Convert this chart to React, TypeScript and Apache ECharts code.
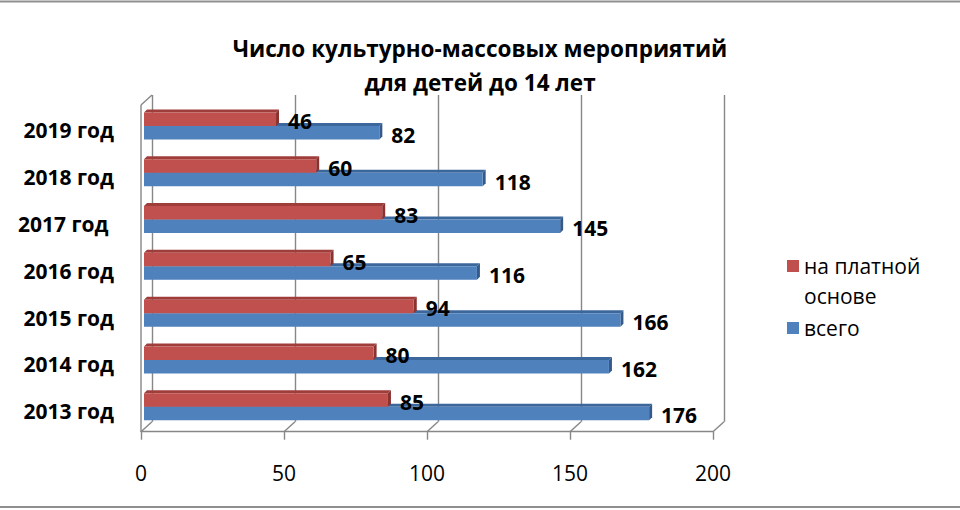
import React, { useEffect, useRef } from "react";
import * as echarts from "echarts";

// ---- data ----
const categories = ["2013 год", "2014 год", "2015 год", "2016 год", "2017 год ", "2018 год", "2019 год"];
const paidValues = [85, 80, 94, 65, 83, 60, 46];
const totalValues = [176, 162, 166, 116, 145, 118, 82];
const seriesNames = ["на платной основе", "всего"];
const axisTicks = [0, 50, 100, 150, 200];
const titleText = "Число культурно-массовых мероприятий\nдля детей до 14 лет";

// ---- style ----
const RED = "#C0504D";
const RED_TOP = "#9E3D3A";
const RED_SIDE = "#8A3230";
const BLUE = "#4F81BD";
const BLUE_TOP = "#3C679C";
const BLUE_SIDE = "#335A8A";
const FRAME = "#878787";
const FONT = '"Open Sans", "Noto Sans", sans-serif';

const BAR_H = 13.5;
const BAR_D = 3;
const LABEL_GAP = 9;
const DX = 11;
const DY = 10;

const gridA = { left: 141, right: 247, top: 105, bottom: 78.3 };
const gridB = { left: gridA.left + DX, right: gridA.right - DX, top: gridA.top - DY, bottom: gridA.bottom + DY };
const gridC = { left: 144, right: 242, top: 102.6, bottom: 79.9 };

function makeBarRender(upper: boolean, front: string, top: string, side: string) {
  return (params: any, api: any) => {
    const v = api.value(0);
    const c = api.value(1);
    const p0 = api.coord([0, c]);
    const p1 = api.coord([v, c]);
    const x0 = p0[0];
    const x1 = p1[0];
    const y = upper ? p0[1] - BAR_H : p0[1];
    const d = BAR_D;
    return {
      type: "group",
      children: [
        {
          type: "polygon",
          shape: { points: [[x0, y], [x0 + d, y - d], [x1 + d, y - d], [x1, y]] },
          style: { fill: top },
        },
        {
          type: "polygon",
          shape: { points: [[x1, y], [x1 + d, y - d], [x1 + d, y + BAR_H - d], [x1, y + BAR_H]] },
          style: { fill: side },
        },
        {
          type: "rect",
          shape: { x: x0, y: y, width: x1 - x0, height: BAR_H },
          style: { fill: front },
        },
        {
          type: "text",
          style: {
            text: String(v),
            x: x1 + d + LABEL_GAP,
            y: y + BAR_H / 2 + 2,
            align: "left",
            verticalAlign: "middle",
            fill: "#000",
            fontSize: 21,
            fontWeight: "bold",
            fontFamily: FONT,
          },
        },
      ],
    };
  };
}

function frameRender(params: any, api: any) {
  const v = api.value(0);
  const pb = api.coord([v, 0]);
  const pt = api.coord([v, 1]);
  const lineStyle = { stroke: FRAME, lineWidth: 1.4, fill: null };
  const children: any[] = [
    { type: "line", shape: { x1: pb[0], y1: pb[1], x2: pb[0] + DX, y2: pb[1] - DY }, style: lineStyle },
  ];
  if (v === 0) {
    children.push({ type: "line", shape: { x1: pb[0], y1: pb[1], x2: pt[0], y2: pt[1] }, style: lineStyle });
    children.push({ type: "line", shape: { x1: pt[0], y1: pt[1], x2: pt[0] + DX, y2: pt[1] - DY }, style: lineStyle });
  }
  return { type: "group", children };
}

export default function App() {
  const ref = useRef<HTMLDivElement>(null);
  useEffect(() => {
    if (!ref.current) return;
    const chart = echarts.init(ref.current, undefined, { renderer: "svg" });
    chart.setOption({
      animation: false,
      backgroundColor: "#fff",
      title: {
        text: titleText,
        left: "center",
        top: 31,
        padding: 0,
        textStyle: { fontFamily: FONT, fontSize: 22.5, fontWeight: "bold", color: "#000", lineHeight: 34 },
      },
      legend: [
        {
          data: [seriesNames[0]],
          orient: "vertical",
          left: 787,
          top: 221,
          padding: 0,
          icon: "rect",
          itemWidth: 12,
          itemHeight: 12,
          itemGap: 9,
          formatter: (n: string) => " \n" + n.replace(" основе", "\nоснове"),
          textStyle: { fontFamily: FONT, fontSize: 21, color: "#000", lineHeight: 30 },
        },
        {
          data: [seriesNames[1]],
          orient: "vertical",
          left: 787,
          top: 313,
          padding: 0,
          icon: "rect",
          itemWidth: 12,
          itemHeight: 12,
          itemGap: 9,
          textStyle: { fontFamily: FONT, fontSize: 21, color: "#000", lineHeight: 30 },
        },
      ],
      grid: [
        { ...gridA },
        { ...gridB },
        { ...gridC },
      ],
      xAxis: [
        {
          gridIndex: 0,
          type: "value",
          min: 0,
          max: 200,
          interval: 50,
          axisLine: { show: true, lineStyle: { color: FRAME, width: 1.4 } },
          axisTick: { show: true, length: 8, lineStyle: { color: FRAME, width: 1.4 } },
          axisLabel: { show: true, margin: 31, fontFamily: FONT, fontSize: 21, color: "#000" },
          splitLine: { show: false },
        },
        {
          gridIndex: 1,
          type: "value",
          min: 0,
          max: 200,
          interval: 50,
          axisLine: { show: false },
          axisTick: { show: false },
          axisLabel: { show: false },
          splitLine: { show: true, lineStyle: { color: FRAME, width: 1.4 } },
        },
        {
          gridIndex: 2,
          type: "value",
          min: 0,
          max: 200,
          interval: 50,
          show: false,
          splitLine: { show: false },
        },
      ],
      yAxis: [
        { gridIndex: 0, type: "value", min: 0, max: 1, show: false, splitLine: { show: false } },
        { gridIndex: 1, type: "value", min: 0, max: 1, show: false, splitLine: { show: false } },
        {
          gridIndex: 2,
          type: "category",
          data: categories,
          axisLine: { show: false },
          axisTick: { show: false },
          axisLabel: {
            margin: 30,
            fontFamily: FONT,
            fontSize: 21,
            fontWeight: "bold",
            color: "#000",
            verticalAlign: "top",
            lineHeight: 9,
          },
        },
      ],
      series: [
        {
          type: "custom",
          name: "frame",
          xAxisIndex: 0,
          yAxisIndex: 0,
          data: axisTicks.map((t) => [t]),
          encode: { x: 0 },
          renderItem: frameRender,
          silent: true,
          z: 1,
        },
        {
          type: "custom",
          name: seriesNames[1],
          xAxisIndex: 2,
          yAxisIndex: 2,
          data: totalValues.map((v, i) => [v, i]),
          encode: { x: 0, y: 1 },
          itemStyle: { color: BLUE },
          renderItem: makeBarRender(false, BLUE, BLUE_TOP, BLUE_SIDE),
          z: 2,
        },
        {
          type: "custom",
          name: seriesNames[0],
          xAxisIndex: 2,
          yAxisIndex: 2,
          data: paidValues.map((v, i) => [v, i]),
          encode: { x: 0, y: 1 },
          itemStyle: { color: RED },
          renderItem: makeBarRender(true, RED, RED_TOP, RED_SIDE),
          z: 3,
        },
      ],
      graphic: [
        { type: "line", shape: { x1: 0, y1: 1.5, x2: 960, y2: 1.5 }, style: { stroke: "#8f8f8f", lineWidth: 2 } },
        { type: "line", shape: { x1: 0, y1: 507, x2: 960, y2: 507 }, style: { stroke: "#8f8f8f", lineWidth: 2 } },
      ],
    });
    return () => chart.dispose();
  }, []);
  return <div ref={ref} style={{ position: "absolute", left: 0, top: 0, width: 960, height: 510 }} />;
}
